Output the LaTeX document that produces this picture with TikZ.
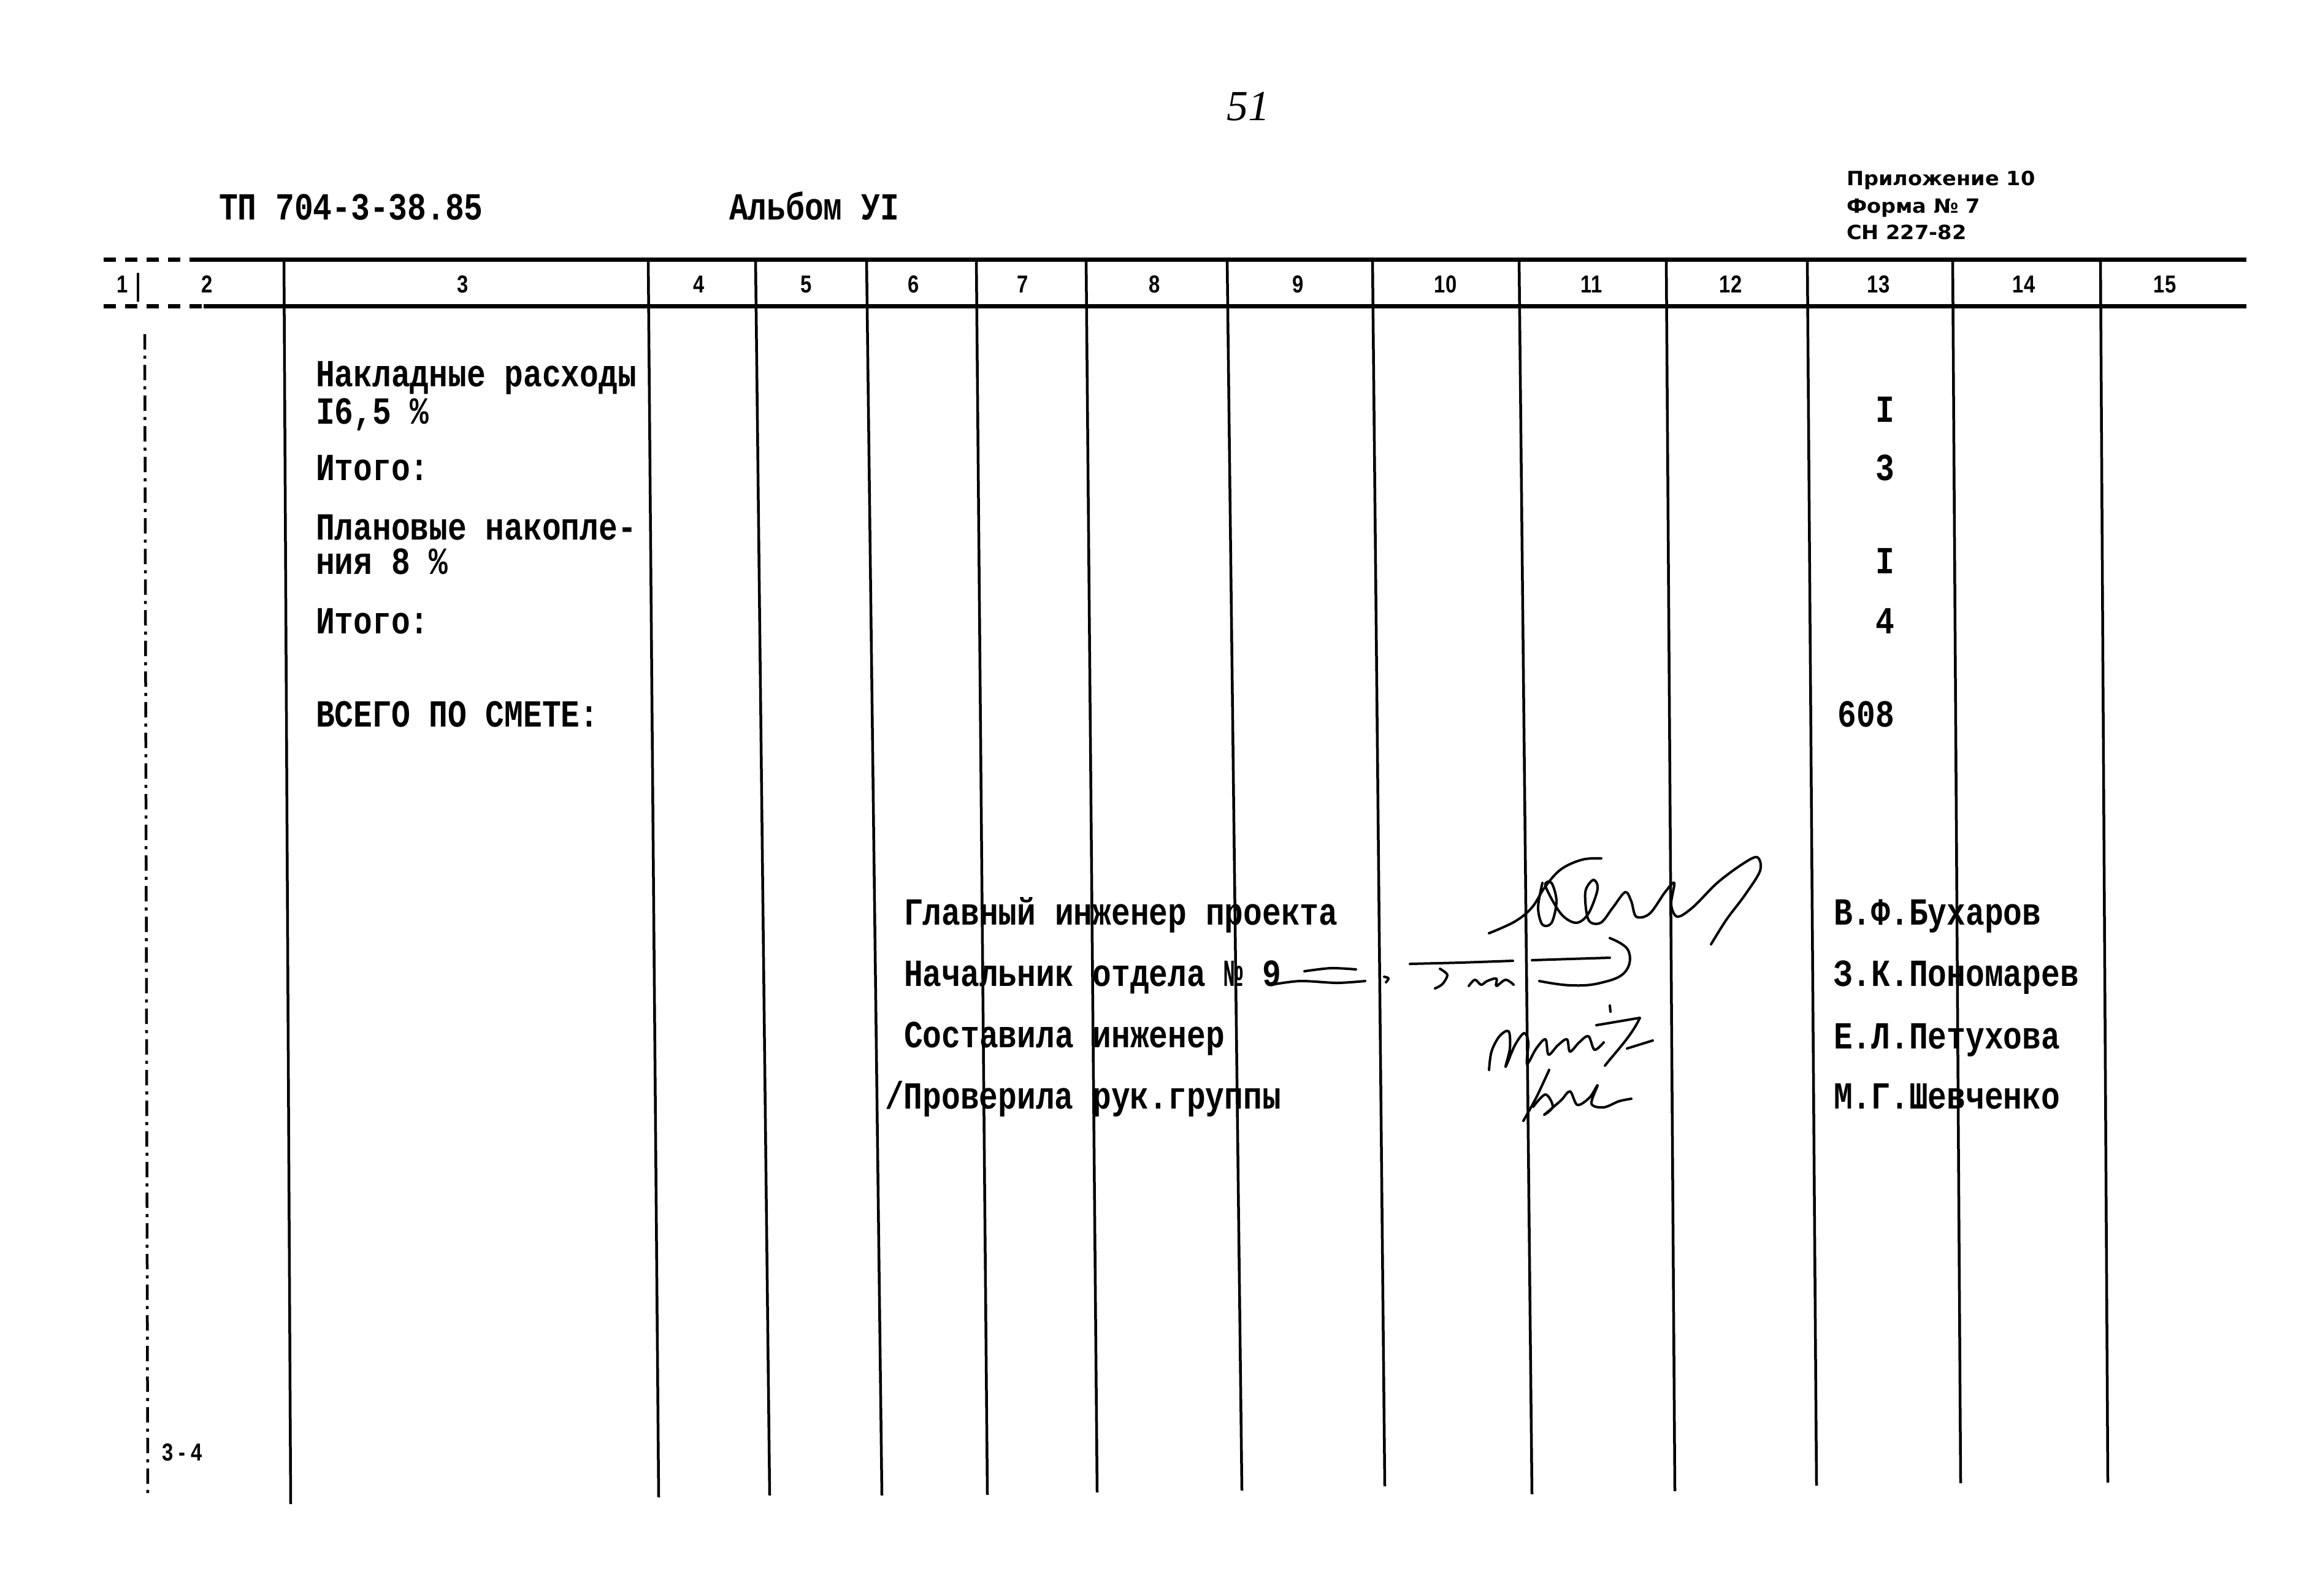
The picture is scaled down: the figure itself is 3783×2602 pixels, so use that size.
\documentclass[tikz,border=0pt]{standalone}
\usepackage{fontspec}
\setmainfont{Liberation Serif}
\newfontfamily\twfont[FakeStretch=0.82]{Liberation Mono}
\newfontfamily\hdfont[FakeStretch=0.82]{Liberation Sans}
\newfontfamily\stfont[FakeStretch=1.05]{DejaVu Sans}
\begin{document}
\begin{tikzpicture}[x=0.2pt,y=-0.2pt,
  tt/.style={font=\fontsize{12.5}{12.5}\selectfont\twfont\bfseries, inner sep=0pt, anchor=base west},
  ttr/.style={tt, anchor=base east},
  hdr/.style={font=\fontsize{8}{8}\selectfont\hdfont\bfseries, inner sep=0pt, anchor=base},
  stamp/.style={font=\fontsize{6.4}{6.4}\selectfont\stfont\bfseries, inner sep=0pt, anchor=base west},
  rule/.style={line width=1.4pt},
  vrule/.style={line width=0.9pt},
  sig/.style={line width=0.8pt, line cap=round, line join=round}]
\useasboundingbox (0,0) rectangle (3783,2602);

% page number
\node[font=\fontsize{14}{14}\selectfont\itshape, inner sep=0pt] (pg) at (2035,174) {51};

% header
\node[tt] (tp) at (356,358) {ТП 704-3-38.85};
\node[tt] (alb) at (1188,358) {Альбом УI};
\node[stamp] (pr1) at (3010,302) {Приложение 10};
\node[stamp] (pr2) at (3010,347) {Форма № 7};
\node[stamp] (pr3) at (3010,390) {СН 227-82};

% horizontal rules
\draw[rule, dash pattern=on 4pt off 3pt] (169,423) -- (320,423);
\draw[rule] (320,423) -- (3663,423);
\draw[rule, dash pattern=on 4pt off 3pt] (169,499) -- (332,499);
\draw[rule] (332,499) -- (3663,499);

% vertical rules
\foreach \xa/\xb/\yb in {463/474/2453, 1057/1074/2442, 1232/1255/2439, 1413/1438/2439,
  1592/1610/2438, 1771/1789/2434, 2001/2025/2431, 2238/2258/2424, 2477/2498/2437,
  2717/2731/2432, 2947/2962/2423, 3184/3197/2419, 3425/3437/2418}
  \draw[vrule] (\xa,423) -- (\xb,\yb);
\draw[vrule] (225,445) -- (225,492);
\draw[vrule, dash pattern=on 5pt off 2pt on 1pt off 2pt] (236,545) -- (241,2443);

% column numbers
\foreach \cx/\t in {200/1, 338/2, 755/3, 1140/4, 1315/5, 1490/6, 1668/7, 1883/8, 2117/9,
  2357/10, 2595/11, 2822/12, 3063/13, 3300/14, 3530/15}
  \node[hdr] (c\t) at (\cx,477) {\t};

% column 3 texts
\node[tt] (t1) at (514,630) {Накладные расходы};
\node[tt] (t2) at (514,691) {I6,5 \%};
\node[tt] (t3) at (514,783) {Итого:};
\node[tt] (t4) at (514,880) {Плановые накопле-};
\node[tt] (t5) at (514,936) {ния 8 \%};
\node[tt] (t6) at (514,1033) {Итого:};
\node[tt] (t7) at (514,1185) {ВСЕГО ПО СМЕТЕ:};

% column 13 values
\node[ttr] (v1) at (3090,688) {I};
\node[ttr] (v2) at (3090,783) {3};
\node[ttr] (v3) at (3090,935) {I};
\node[ttr] (v4) at (3090,1033) {4};
\node[ttr] (v5) at (3090,1185) {608};

% signature block
\node[tt] (s1) at (1473,1508) {Главный инженер проекта};
\node[tt] (s2) at (1473,1608) {Начальник отдела № 9};
\node[tt] (s3) at (1473,1708) {Составила инженер};
\node[tt] (s4) at (1442,1808) {/Проверила рук.группы};
\node[tt] (n1) at (2989,1508) {В.Ф.Бухаров};
\node[tt] (n2) at (2989,1608) {З.К.Пономарев};
\node[tt] (n3) at (2989,1710) {Е.Л.Петухова};
\node[tt] (n4) at (2989,1808) {М.Г.Шевченко};

% handwritten signature 1
\draw[sig] plot[smooth, tension=0.6] coordinates {(2428,1522) (2470,1503) (2498,1480) (2519,1447) (2545,1418) (2580,1402) (2611,1400)};
\draw[sig] plot[smooth, tension=0.55] coordinates {(2515,1440) (2508,1480) (2515,1508) (2530,1505) (2538,1470) (2530,1440) (2520,1445)
  (2545,1490) (2570,1505) (2590,1490) (2605,1450) (2598,1435) (2585,1455) (2590,1500) (2610,1505) (2630,1480)
  (2650,1455) (2660,1470) (2668,1495) (2690,1490) (2715,1455) (2730,1440) (2725,1475) (2735,1495) (2760,1480)
  (2800,1440) (2840,1410) (2865,1398) (2870,1420) (2845,1460) (2815,1500) (2790,1540)};

% handwritten signature 2
\draw[sig] plot[smooth] coordinates {(2127,1584) (2170,1579) (2211,1581)};
\draw[sig] plot[smooth] coordinates {(2073,1606) (2120,1600) (2180,1603) (2226,1600)};
\draw[sig] (2257,1593) .. controls (2266,1595) .. (2260,1602);
\draw[sig] plot[smooth] coordinates {(2299,1572) (2380,1570) (2467,1567)};
\draw[sig] plot[smooth] coordinates {(2348,1580) (2360,1590) (2352,1605) (2340,1612)};
\draw[sig] plot[smooth, tension=0.6] coordinates {(2395,1608) (2405,1598) (2415,1606) (2425,1600) (2440,1596) (2440,1608) (2455,1598) (2468,1606)};
\draw[sig] plot[smooth] coordinates {(2498,1566) (2560,1564) (2625,1562)};
\draw[sig] plot[smooth, tension=0.7] coordinates {(2625,1530) (2655,1550) (2650,1585) (2610,1603) (2561,1607) (2510,1600)};

% handwritten signature 3
\draw[sig] plot[smooth, tension=0.55] coordinates {(2428,1745) (2432,1715) (2445,1690) (2460,1682) (2462,1710) (2455,1740) (2470,1705)
  (2485,1685) (2492,1700) (2490,1735) (2505,1710) (2520,1695) (2525,1720) (2540,1705) (2555,1695) (2560,1715)
  (2575,1700) (2590,1690) (2600,1712) (2615,1700)};
\draw[sig] (2603,1672) -- (2674,1660) .. controls (2660,1690) and (2635,1715) .. (2617,1738);
\draw[sig] (2653,1710) -- (2695,1697);
\draw[sig] (2625,1640) -- (2626,1650);
\draw[sig] plot[smooth] coordinates {(2526,1745) (2505,1790) (2484,1828)};
\draw[sig] plot[smooth, tension=0.55] coordinates {(2500,1805) (2520,1785) (2532,1805) (2518,1818) (2545,1795) (2560,1780)
  (2572,1802) (2592,1790) (2605,1770) (2595,1800) (2615,1806) (2640,1796) (2660,1792)};

% bottom-left mark
\node[font=\fontsize{8}{8}\selectfont\hdfont\bfseries, inner sep=0pt, anchor=base west] (pg2) at (263,2382) {3 - 4};
\end{tikzpicture}
\end{document}
